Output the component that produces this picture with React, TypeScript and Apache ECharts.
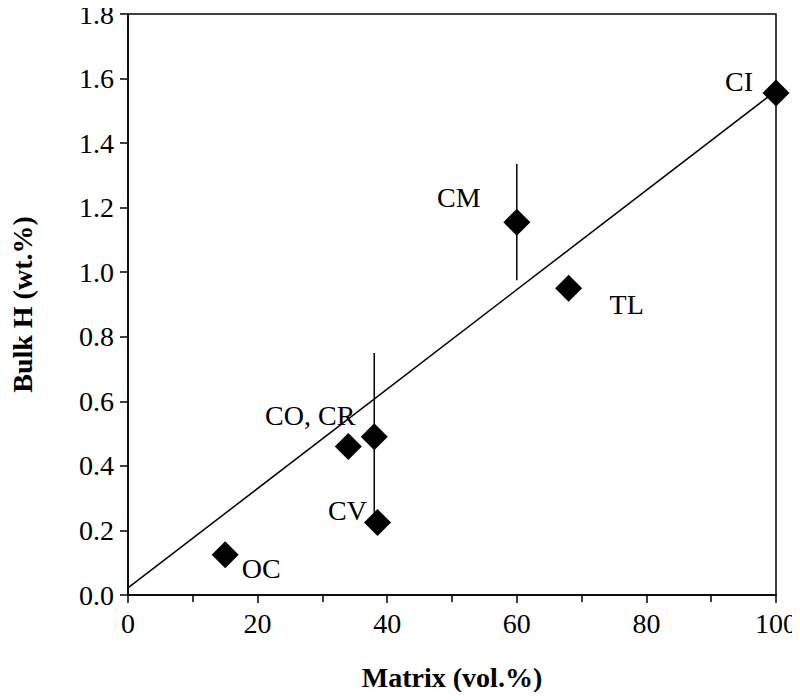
import React, { useEffect, useRef } from "react";
import * as echarts from "echarts";

const sampleNames = ["OC", "CO", "CR", "CV", "CM", "TL", "CI"];
const matrixVol = [15, 34, 38, 38.5, 60, 68, 100];
const bulkH = [0.125, 0.46, 0.49, 0.225, 1.155, 0.95, 1.555];
const pointLabels = ["OC", "", "CO, CR", "CV", "CM", "TL", "CI"];
const errorBarNames = ["CR", "CM"];
const errorBarX = [38, 60];
const errorBarLow = [0.23, 0.975];
const errorBarHigh = [0.75, 1.335];
const fitX = [0, 100];
const fitSlope = 0.0154;
const fitIntercept = 0.022;
const labelOffsets: [number, number][] = [
  [36, 14],
  [0, 0],
  [-64, -21],
  [-30, -12],
  [-58, -25],
  [58, 16],
  [-37, -12],
];

const FONT = "Liberation Serif";

export default function App() {
  const ref = useRef<HTMLDivElement>(null);
  useEffect(() => {
    if (!ref.current) return;
    const chart = echarts.init(ref.current, null, { renderer: "svg" });
    const fitData = fitX.map((x) => [x, fitIntercept + fitSlope * x]);
    const errSeries = errorBarNames.map((n, i) => ({
      name: "err-" + n,
      type: "line",
      data: [
        [errorBarX[i], errorBarLow[i]],
        [errorBarX[i], errorBarHigh[i]],
      ],
      symbol: "none",
      lineStyle: { color: "#000", width: 1.5 },
      z: 2,
    }));
    chart.setOption({
      animation: false,
      backgroundColor: "#fff",
      grid: {
        left: 127,
        right: 23,
        top: 10,
        bottom: 105,
        show: true,
        borderColor: "#000",
        borderWidth: 1.5,
      },
      xAxis: {
        type: "value",
        min: 0,
        max: 100,
        interval: 20,
        name: "Matrix (vol.%)",
        nameLocation: "middle",
        nameGap: 68,
        nameTextStyle: { fontFamily: FONT, fontSize: 28, fontWeight: "bold", color: "#000" },
        axisLine: { show: true, lineStyle: { color: "#000", width: 1.5 } },
        axisTick: { show: true, inside: false, length: 8, lineStyle: { color: "#000", width: 1.5 } },
        minorTick: { show: true, splitNumber: 2, length: 7, lineStyle: { color: "#000", width: 1.5 } },
        axisLabel: { fontFamily: FONT, fontSize: 28, color: "#000", margin: 14 },
        splitLine: { show: false },
      },
      yAxis: {
        type: "value",
        min: 0,
        max: 1.8,
        interval: 0.2,
        name: "Bulk H (wt.%)",
        nameLocation: "middle",
        nameGap: 92,
        nameTextStyle: { fontFamily: FONT, fontSize: 28, fontWeight: "bold", color: "#000" },
        axisLine: { show: true, lineStyle: { color: "#000", width: 1.5 } },
        axisTick: { show: true, inside: false, length: 8, lineStyle: { color: "#000", width: 1.5 } },
        axisLabel: {
          fontFamily: FONT,
          fontSize: 28,
          color: "#000",
          margin: 14,
          formatter: (v: number) => v.toFixed(1),
        },
        splitLine: { show: false },
      },
      series: [
        {
          name: "fit",
          type: "line",
          data: fitData,
          symbol: "none",
          lineStyle: { color: "#000", width: 1.5 },
          z: 1,
        },
        ...errSeries,
        {
          name: "samples",
          type: "scatter",
          symbol: "diamond",
          symbolSize: 27,
          itemStyle: { color: "#000", opacity: 1 },
          z: 5,
          data: sampleNames.map((n, i) => ({
            name: n,
            value: [matrixVol[i], bulkH[i]],
            label: {
              show: pointLabels[i] !== "",
              formatter: pointLabels[i],
              position: "inside",
              offset: labelOffsets[i],
              fontFamily: FONT,
              fontSize: 28,
              color: "#000",
              opacity: 1,
              align: "center",
              verticalAlign: "middle",
            },
          })),
        },
      ],
    });
    return () => chart.dispose();
  }, []);
  return <div ref={ref} style={{ width: 800, height: 700, margin: -8 }} />;
}
